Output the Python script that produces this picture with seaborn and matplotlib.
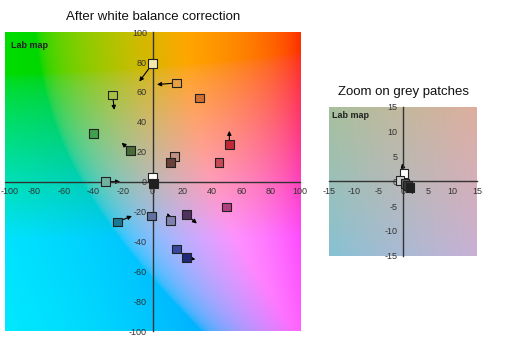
import numpy as np
import pandas as pd
import matplotlib
matplotlib.use('Agg')
import matplotlib.pyplot as plt
import matplotlib.transforms as mtransforms
import seaborn as sns

# patch positions (a*, b*) after correction, and where the arrows point to
patch_names = ['yellow_white', 'orange', 'dark_orange', 'yellow_green', 'green',
               'dark_green', 'red', 'pink_red', 'light_brown', 'dark_brown',
               'grey_green', 'teal', 'slate_blue', 'lilac_grey', 'dark_purple',
               'magenta', 'blue', 'dark_blue', 'white', 'black']
patch_a = [0, 16, 32, -27, -40, -15, 52, 45, 15, 12, -32, -24, -1, 12, 23, 50, 16, 23, 0, 0.5]
patch_b = [79, 66, 56, 58, 32, 21, 25, 13, 17, 13, 0, -27, -23, -26, -22, -17, -45, -51, 3, -1]
patch_colors = ['#f3e9b0', '#e8a040', '#d07030', '#a8c040', '#40a050',
                '#4a6a3a', '#c02838', '#c84858', '#c09080', '#6a4038',
                '#70b0a0', '#1a7890', '#6070a0', '#8080b0', '#503060',
                '#b04080', '#3848a0', '#202878', '#ffffff', '#202020']

arrow_from = [(0, 79), (16, 66), (32, 56), (-27, 58), (-40, 32), (-15, 21),
              (52, 25), (45, 13), (15, 17), (-32, 0), (-24, -27), (12, -26),
              (23, -22), (16, -45), (23, -51)]
arrow_to = [(-9, 67), (3, 65), (29, 56), (-26, 48), (-43, 32), (-21, 26),
            (52, 34), (48, 16), (14, 12), (-22, 0), (-14, -23), (10, -21),
            (30, -28), (20, -46), (29, -52)]

main_ticks = [-100, -80, -60, -40, -20, 0, 20, 40, 60, 80, 100]

# grey patches for the zoomed view
grey_names = ['g_white', 'g_light', 'g_mid', 'g_dark', 'g_black']
grey_a = [0.2, -0.6, 0.4, 0.9, 1.4]
grey_b = [1.6, 0.1, -0.4, -0.8, -1.3]
grey_colors = ['#ffffff', '#d0d0d0', '#606060', '#383838', '#202020']
grey_arrow_from = [(0.2, 1.6), (1.4, -1.3)]
grey_arrow_to = [(-0.2, 3.6), (2.0, -2.6)]

zoom_ticks = [-15, -10, -5, 0, 5, 10, 15]


def lab_map(L, lim, n=300):
    a = np.linspace(-lim, lim, n)
    b = np.linspace(lim, -lim, n)
    A, B = np.meshgrid(a, b)
    fy = (L + 16) / 116
    fx = fy + A / 500
    fz = fy - B / 200

    def finv(t):
        return np.where(t > 6 / 29, t ** 3, 3 * (6 / 29) ** 2 * (t - 4 / 29))
    X = 0.95047 * finv(fx)
    Y = finv(fy) * np.ones_like(A)
    Z = 1.08883 * finv(fz)
    R = 3.2406 * X - 1.5372 * Y - 0.4986 * Z
    G = -0.9689 * X + 1.8758 * Y + 0.0415 * Z
    Bl = 0.0557 * X - 0.2040 * Y + 1.0570 * Z
    rgb = np.clip(np.dstack([R, G, Bl]), 0, 1)
    rgb = np.where(rgb > 0.0031308, 1.055 * rgb ** (1 / 2.4) - 0.055, 12.92 * rgb)
    return np.clip(rgb, 0, 1)


def style_axes(ax, lim, ticks):
    ax.set_xlim(-lim, lim)
    ax.set_ylim(-lim, lim)
    for s in ['top', 'right']:
        ax.spines[s].set_visible(False)
    for s in ['left', 'bottom']:
        ax.spines[s].set_position('zero')
        ax.spines[s].set_color('#333333')
        ax.spines[s].set_linewidth(1.0)
    ax.set_xticks(ticks)
    ax.set_yticks(ticks)
    ax.set_xticklabels([str(t) for t in ticks])
    ax.set_yticklabels([str(t) for t in ticks])
    ax.tick_params(length=0, labelsize=6.5, colors='#333333', pad=4)
    ax.set_xlabel('')
    ax.set_ylabel('')
    ax.text(0.02, 0.97, 'Lab map', transform=ax.transAxes, fontsize=6.5,
            fontweight='bold', va='top', ha='left', color='#222222')


def draw_arrows(ax, starts, ends):
    for p0, p1 in zip(starts, ends):
        ax.annotate('', xy=p1, xytext=p0,
                    arrowprops=dict(arrowstyle='-|>', color='black', lw=0.8,
                                    mutation_scale=6, shrinkA=0, shrinkB=0), zorder=2)


sns.set_style('white')
plt.rcParams['font.family'] = ['Liberation Sans', 'DejaVu Sans']

fig = plt.figure(figsize=(5.3, 3.5), dpi=100)

# main Lab map
ax = fig.add_axes([0.0094, 0.054, 0.557, 0.854])
ax.imshow(lab_map(75, 100), extent=[-100, 100, -100, 100], aspect='auto', zorder=0)
draw_arrows(ax, arrow_from, arrow_to)
df = pd.DataFrame({'a': patch_a, 'b': patch_b, 'patch': patch_names})
sns.scatterplot(data=df, x='a', y='b', hue='patch',
                palette=dict(zip(patch_names, patch_colors)),
                marker='s', s=40, edgecolor='#222222', linewidth=0.8,
                legend=False, ax=ax, zorder=3)
style_axes(ax, 100, main_ticks)
# keep the left-most label inside the figure
first = ax.get_xticklabels()[0]
first.set_horizontalalignment('left')
first.set_transform(first.get_transform() +
                    mtransforms.ScaledTranslation(-4 / 100, 0, fig.dpi_scale_trans))

# zoom on grey patches
axz = fig.add_axes([0.621, 0.269, 0.279, 0.426])
axz.imshow(lab_map(75, 15), extent=[-15, 15, -15, 15], aspect='auto', zorder=0)
draw_arrows(axz, grey_arrow_from, grey_arrow_to)
dg = pd.DataFrame({'a': grey_a, 'b': grey_b, 'patch': grey_names})
sns.scatterplot(data=dg, x='a', y='b', hue='patch',
                palette=dict(zip(grey_names, grey_colors)),
                marker='s', s=40, edgecolor='#222222', linewidth=0.8,
                legend=False, ax=axz, zorder=3)
style_axes(axz, 15, zoom_ticks)

fig.text(0.289, 0.951, 'After white balance correction', ha='center', va='center',
         fontsize=9.5, color='#111111')
fig.text(0.762, 0.737, 'Zoom on grey patches', ha='center', va='center',
         fontsize=9.5, color='#111111')

fig.savefig('out.png', dpi=100)
